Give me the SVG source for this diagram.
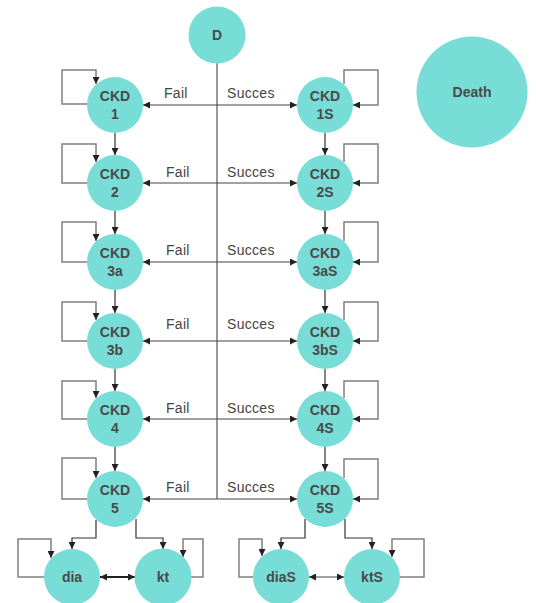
<svg xmlns="http://www.w3.org/2000/svg" width="536" height="603" viewBox="0 0 536 603">
<defs>
<marker id="ah" viewBox="0 0 10 10" refX="10" refY="5" markerWidth="8" markerHeight="7" markerUnits="userSpaceOnUse" orient="auto-start-reverse">
<path d="M0,0 L10,5 L0,10 z" fill="#222"/>
</marker>
<style>
.n{fill:#77DDD6}
.t{font-family:"Liberation Sans",Arial,sans-serif;font-size:14px;font-weight:bold;fill:#4a4a4a;text-anchor:middle}
.l{font-family:"Liberation Sans",Arial,sans-serif;font-size:14px;fill:#444;letter-spacing:0.3px}
.c{fill:none;stroke:#333;stroke-width:1.2;marker-end:url(#ah)}
.h{fill:none;stroke:#444;stroke-width:1.2;marker-start:url(#ah);marker-end:url(#ah)}
.lp{fill:none;stroke:#808080;stroke-width:1.5;marker-end:url(#ah)}
.d{fill:none;stroke:#555;stroke-width:1.2}
</style>
</defs>
<rect width="536" height="603" fill="#fff"/>
<g id="connectors">
<line class="d" x1="217" y1="63" x2="217" y2="499"/>
<!-- horizontals -->
<line class="h" x1="143" y1="105" x2="297" y2="105"/>
<line class="h" x1="143" y1="183" x2="297" y2="183"/>
<line class="h" x1="143" y1="262" x2="297" y2="262"/>
<line class="h" x1="143" y1="341" x2="297" y2="341"/>
<line class="h" x1="143" y1="419" x2="297" y2="419"/>
<line class="h" x1="143" y1="499" x2="297" y2="499"/>
<!-- verticals -->
<line class="c" x1="115" y1="133" x2="115" y2="155"/>
<line class="c" x1="115" y1="211" x2="115" y2="234"/>
<line class="c" x1="115" y1="290" x2="115" y2="313"/>
<line class="c" x1="115" y1="369" x2="115" y2="391"/>
<line class="c" x1="115" y1="447" x2="115" y2="471"/>
<line class="c" x1="325" y1="133" x2="325" y2="155"/>
<line class="c" x1="325" y1="211" x2="325" y2="234"/>
<line class="c" x1="325" y1="290" x2="325" y2="313"/>
<line class="c" x1="325" y1="369" x2="325" y2="391"/>
<line class="c" x1="325" y1="447" x2="325" y2="471"/>
<!-- left self loops -->
<path class="lp" d="M87,104 H62 V70 H96 V84"/>
<path class="lp" d="M87,183 H62 V144 H96 V162"/>
<path class="lp" d="M87,262 H62 V222 H96 V241"/>
<path class="lp" d="M87,341 H62 V302 H96 V320"/>
<path class="lp" d="M87,419 H62 V381 H96 V398"/>
<path class="lp" d="M87,499 H62 V458 H96 V478"/>
<!-- right self loops -->
<path class="lp" d="M344,84 V70 H378 V105 H353"/>
<path class="lp" d="M344,162 V144 H378 V183 H353"/>
<path class="lp" d="M344,241 V222 H378 V262 H353"/>
<path class="lp" d="M344,320 V302 H378 V341 H353"/>
<path class="lp" d="M344,398 V381 H378 V419 H353"/>
<path class="lp" d="M344,478 V459 H378 V499 H353"/>
<!-- bottom branches -->
<path class="c" d="M96,520 V538 H72 V549"/>
<path class="c" d="M136,519 V538 H163 V549"/>
<path class="c" d="M305,519 V538 H281 V549"/>
<path class="c" d="M345,519 V538 H372 V549"/>
<!-- bottom loops -->
<path class="lp" d="M44,577 H18 V539 H51 V558"/>
<path class="lp" d="M191,577 H203 V539 H183 V557"/>
<path class="lp" d="M253,577 H239 V539 H262 V556"/>
<path class="lp" d="M400,577 H424 V539 H392 V557"/>
<!-- double arrows -->
<line class="h" x1="100" y1="577" x2="135" y2="577" style="stroke:#222;stroke-width:2"/>
<line class="h" x1="309" y1="577" x2="344" y2="577"/>
</g>
<g id="labels">
<text class="l" x="164" y="98">Fail</text><text class="l" x="227" y="98">Succes</text>
<text class="l" x="166" y="177">Fail</text><text class="l" x="227" y="177">Succes</text>
<text class="l" x="166" y="255">Fail</text><text class="l" x="227" y="255">Succes</text>
<text class="l" x="166" y="329">Fail</text><text class="l" x="227" y="329">Succes</text>
<text class="l" x="166" y="413">Fail</text><text class="l" x="227" y="413">Succes</text>
<text class="l" x="166" y="492">Fail</text><text class="l" x="227" y="492">Succes</text>
</g>
<g id="D"><circle class="n" cx="217" cy="35" r="28.5"/><text class="t" x="217" y="40">D</text></g>
<g id="Death"><circle class="n" cx="472" cy="92" r="55.5"/><text class="t" x="472" y="97">Death</text></g>
<g id="CKD1"><circle class="n" cx="115" cy="105" r="28"/><text class="t" x="115" y="101">CKD</text><text class="t" x="115" y="119">1</text></g>
<g id="CKD2"><circle class="n" cx="115" cy="183" r="28"/><text class="t" x="115" y="179">CKD</text><text class="t" x="115" y="197">2</text></g>
<g id="CKD3a"><circle class="n" cx="115" cy="262" r="28"/><text class="t" x="115" y="258">CKD</text><text class="t" x="115" y="276">3a</text></g>
<g id="CKD3b"><circle class="n" cx="115" cy="341" r="28"/><text class="t" x="115" y="337">CKD</text><text class="t" x="115" y="355">3b</text></g>
<g id="CKD4"><circle class="n" cx="115" cy="419" r="28"/><text class="t" x="115" y="415">CKD</text><text class="t" x="115" y="433">4</text></g>
<g id="CKD5"><circle class="n" cx="115" cy="499" r="28"/><text class="t" x="115" y="495">CKD</text><text class="t" x="115" y="513">5</text></g>
<g id="CKD1S"><circle class="n" cx="325" cy="105" r="28"/><text class="t" x="325" y="101">CKD</text><text class="t" x="325" y="119">1S</text></g>
<g id="CKD2S"><circle class="n" cx="325" cy="183" r="28"/><text class="t" x="325" y="179">CKD</text><text class="t" x="325" y="197">2S</text></g>
<g id="CKD3aS"><circle class="n" cx="325" cy="262" r="28"/><text class="t" x="325" y="258">CKD</text><text class="t" x="325" y="276">3aS</text></g>
<g id="CKD3bS"><circle class="n" cx="325" cy="341" r="28"/><text class="t" x="325" y="337">CKD</text><text class="t" x="325" y="355">3bS</text></g>
<g id="CKD4S"><circle class="n" cx="325" cy="419" r="28"/><text class="t" x="325" y="415">CKD</text><text class="t" x="325" y="433">4S</text></g>
<g id="CKD5S"><circle class="n" cx="325" cy="499" r="28"/><text class="t" x="325" y="495">CKD</text><text class="t" x="325" y="513">5S</text></g>
<g id="dia"><circle class="n" cx="72" cy="577" r="28"/><text class="t" x="72" y="582">dia</text></g>
<g id="kt"><circle class="n" cx="163" cy="577" r="28.5"/><text class="t" x="163" y="582">kt</text></g>
<g id="diaS"><circle class="n" cx="281" cy="577" r="28"/><text class="t" x="281" y="582">diaS</text></g>
<g id="ktS"><circle class="n" cx="372" cy="577" r="28"/><text class="t" x="372" y="582">ktS</text></g>
</svg>
